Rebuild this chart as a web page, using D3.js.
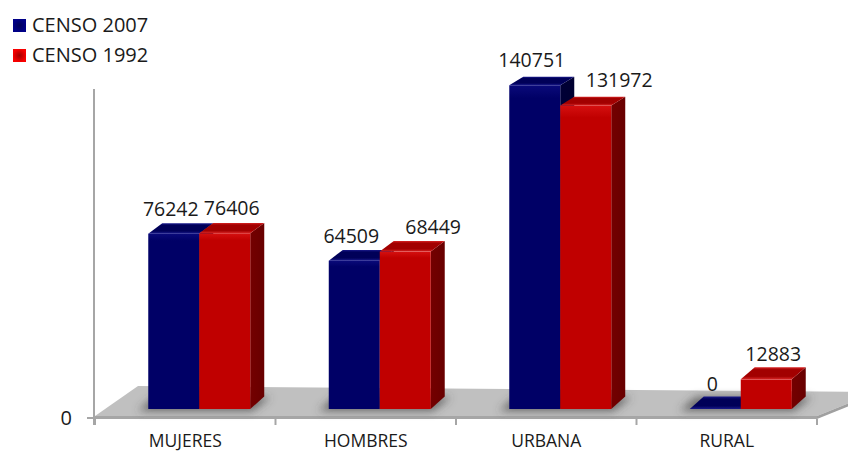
<!DOCTYPE html>
<html>
<head>
<meta charset="utf-8">
<script src="https://cdn.jsdelivr.net/npm/d3@7"></script>
<style>
  html, body { margin: 0; padding: 0; background: #ffffff; }
  svg { display: block; }
  text { font-family: "Open Sans", "Liberation Sans", sans-serif; fill: #1a1a1a; }
</style>
</head>
<body>
<svg id="chart" width="848" height="453"></svg>
<script>
// Población por sexo y área de residencia, censos 2007 y 1992
const categories = ["MUJERES", "HOMBRES", "URBANA", "RURAL"];
const seriesNames = ["CENSO 2007", "CENSO 1992"];
const censo2007 = [76242, 64509, 140751, 0];
const censo1992 = [76406, 68449, 131972, 12883];
const yTickValues = [0];

const seriesValues = [censo2007, censo1992];

// Colour sets for each series: front, top, side faces
const palette = [
  { front: "#000066", frontHi: "#0a0a7a", top: "#000058", topHi: "#1a1a8c", side: "#000036", marker: "#00006e" },
  { front: "#c00000", frontHi: "#d51010", top: "#a20000", topHi: "#d82424", side: "#740000", marker: "#c80000" }
];

const W = 848, H = 453;
const svg = d3.select("#chart");
const defs = svg.append("defs");

// Category scale along the front edge of the floor
const x = d3.scaleBand()
  .domain(categories)
  .range([95, 817])
  .paddingInner(0.435)
  .paddingOuter(0.2175);

const xs = d3.scaleBand()
  .domain(seriesNames)
  .range([0, x.bandwidth()]);

const y = d3.scaleLinear()
  .domain([0, 160000])
  .range([409, 41]);

// 3D geometry
const barDepthX = 14;          // horizontal offset of bar's back plane
const barShift = 14;           // bars sit slightly behind the floor's front edge
const floorFrontY = 416;
const floorDepthX = 43, floorDepthY = 30;
const yHigh = y(d3.max(censo2007.concat(censo1992)));
const yLow = y(0);
// vertical depth offset shrinks as bars rise (perspective)
const depthY = py => 8.5 + 4 * (py - yHigh) / (yLow - yHigh);

// ---------- gradients & filters ----------
palette.forEach((p, i) => {
  const gf = defs.append("linearGradient").attr("id", "front" + i)
    .attr("x1", 0).attr("y1", 0).attr("x2", 0).attr("y2", 1);
  gf.append("stop").attr("offset", 0).attr("stop-color", p.frontHi);
  gf.append("stop").attr("offset", 0.04).attr("stop-color", p.front);
  gf.append("stop").attr("offset", 1).attr("stop-color", p.front);

  const gt = defs.append("linearGradient").attr("id", "top" + i)
    .attr("x1", 0).attr("y1", 1).attr("x2", 0).attr("y2", 0);
  gt.append("stop").attr("offset", 0).attr("stop-color", p.topHi);
  gt.append("stop").attr("offset", 0.25).attr("stop-color", p.top);
  gt.append("stop").attr("offset", 0.8).attr("stop-color", p.top);
  gt.append("stop").attr("offset", 1).attr("stop-color", p.topHi);

  const gs = defs.append("linearGradient").attr("id", "side" + i)
    .attr("x1", 0).attr("y1", 0).attr("x2", 1).attr("y2", 0);
  gs.append("stop").attr("offset", 0).attr("stop-color", p.side);
  gs.append("stop").attr("offset", 1).attr("stop-color", d3.color(p.side).darker(0.3));

  const gm = defs.append("radialGradient").attr("id", "marker" + i);
  gm.append("stop").attr("offset", 0).attr("stop-color", d3.color(p.marker).darker(0.6));
  gm.append("stop").attr("offset", 1).attr("stop-color", d3.color(p.marker).brighter(0.6));
});

defs.append("filter").attr("id", "shadowBlur")
  .attr("x", "-30%").attr("y", "-80%").attr("width", "160%").attr("height", "260%")
  .append("feGaussianBlur").attr("stdDeviation", 4);

// ---------- floor ----------
const [fx0, fx1] = x.range();
const floorG = svg.append("g");
floorG.append("polygon")
  .attr("points", [
    [fx0, floorFrontY],
    [fx0 + floorDepthX, floorFrontY - floorDepthY],
    [fx1 + 60, floorFrontY - floorDepthY + 6],
    [fx1, floorFrontY]
  ].map(p => p.join(",")).join(" "))
  .attr("fill", "#c0c0c0");
// front edge band
floorG.append("polygon")
  .attr("points", [
    [fx0, floorFrontY], [fx1, floorFrontY], [fx1, floorFrontY + 3], [fx0 - 1, floorFrontY + 3]
  ].map(p => p.join(",")).join(" "))
  .attr("fill", "#a6a6a6");
// right edge band
floorG.append("polygon")
  .attr("points", [
    [fx1, floorFrontY], [fx1 + 60, floorFrontY - floorDepthY + 6],
    [fx1 + 60, floorFrontY - floorDepthY + 9], [fx1, floorFrontY + 3]
  ].map(p => p.join(",")).join(" "))
  .attr("fill", "#a0a0a0");

// ---------- axes ----------
const axisG = svg.append("g");
const axisX = fx0 - 1;
axisG.append("line")
  .attr("x1", axisX).attr("x2", axisX)
  .attr("y1", 89).attr("y2", floorFrontY + 9)
  .attr("stroke", "#a6a6a6").attr("stroke-width", 2);

yTickValues.forEach(v => {
  const ty = floorFrontY + 2 + (y(v) - y(0));
  axisG.append("line")
    .attr("x1", axisX - 7).attr("x2", axisX)
    .attr("y1", ty).attr("y2", ty)
    .attr("stroke", "#a6a6a6").attr("stroke-width", 2);
  axisG.append("text")
    .attr("x", axisX - 22).attr("y", ty + 7)
    .attr("text-anchor", "end")
    .attr("font-size", 20)
    .text(d3.format("d")(v));
});

// category boundary ticks and labels
const bandStart = c => x(c) - x.step() * x.paddingInner() / 2;
const bounds = categories.map(bandStart).concat([fx1]);
bounds.forEach(bx => {
  axisG.append("line")
    .attr("x1", bx).attr("x2", bx)
    .attr("y1", floorFrontY + 3).attr("y2", floorFrontY + 9)
    .attr("stroke", "#a6a6a6").attr("stroke-width", 2);
});
categories.forEach(c => {
  axisG.append("text")
    .attr("x", bandStart(c) + x.step() / 2)
    .attr("y", 447)
    .attr("text-anchor", "middle")
    .attr("font-size", 17.5)
    .text(c);
});

// ---------- shadows under each pair of bars ----------
const shadowG = svg.append("g").attr("filter", "url(#shadowBlur)");
categories.forEach((c, ci) => {
  const maxV = d3.max(seriesValues, s => s[ci]);
  if (maxV <= 0) return;
  const bx0 = x(c) + barShift, bx1 = bx0 + x.bandwidth();
  const by = y(0);
  shadowG.append("polygon")
    .attr("points", [
      [bx0 - 10, by + 2], [bx1 + 2, by + 2], [bx1 + barDepthX + 6, by - 12], [bx0 + barDepthX - 8, by - 12]
    ].map(p => p.join(",")).join(" "))
    .attr("fill", "#444444")
    .attr("opacity", 0.7);
});

// ---------- bars ----------
const barsG = svg.append("g");
const labelsG = svg.append("g");
const pts = arr => arr.map(p => p.join(",")).join(" ");
const labelGap = 8;

categories.forEach((c, ci) => {
  const placed = [];
  seriesNames.forEach((s, si) => {
    const v = seriesValues[si][ci];
    const x0 = x(c) + barShift + xs(s);
    const x1 = x0 + xs.bandwidth();
    const yb = y(0);
    const yt = y(v);
    const dyT = depthY(yt), dyB = depthY(yb);
    const g = barsG.append("g");

    if (yb - yt > 0.5) {
      g.append("polygon")
        .attr("points", pts([[x1, yt], [x1 + barDepthX, yt - dyT], [x1 + barDepthX, yb - dyB], [x1, yb]]))
        .attr("fill", `url(#side${si})`);
      g.append("rect")
        .attr("x", x0).attr("y", yt)
        .attr("width", x1 - x0).attr("height", yb - yt)
        .attr("fill", `url(#front${si})`);
    }
    g.append("polygon")
      .attr("points", pts([[x0, yt], [x1, yt], [x1 + barDepthX, yt - dyT], [x0 + barDepthX, yt - dyT]]))
      .attr("fill", `url(#top${si})`);

    // value label above the bar; slide it right when it crowds a staggered
    // neighbouring label or the neighbouring bar
    const baseline = yt - 18;
    const label = labelsG.append("text")
      .attr("font-size", 19.5)
      .attr("y", baseline)
      .text(d3.format("d")(v));
    const cx = (x0 + x1) / 2 + (si === 0 ? -3 : 7);
    label.attr("x", cx).attr("text-anchor", "middle");
    let box = label.node().getBBox();
    const hit = placed.some(p => {
      const overlapY = box.y < p.y1 && box.y + box.height > p.y0;
      if (p.kind === "label") {
        const staggered = Math.abs(p.baseline - baseline) > 4;
        return staggered && overlapY && box.x < p.x1 + labelGap && box.x + box.width > p.x0;
      }
      return overlapY && box.x < p.x1 && box.x + box.width > p.x0;
    });
    if (hit) {
      label.attr("x", (x0 + x1) / 2).attr("text-anchor", "start");
      box = label.node().getBBox();
    }
    placed.push({ kind: "label", baseline, x0: box.x, x1: box.x + box.width, y0: box.y, y1: box.y + box.height });
    placed.push({ kind: "bar", x0: x0, x1: x1 + barDepthX, y0: yt - dyT, y1: yb });
  });
});

// ---------- legend ----------
const legend = svg.append("g");
seriesNames.forEach((s, i) => {
  const ly = 19 + i * 30;
  legend.append("rect")
    .attr("x", 13).attr("y", ly)
    .attr("width", 13).attr("height", 13)
    .attr("fill", `url(#marker${i})`);
  legend.append("text")
    .attr("x", 32).attr("y", ly + 13)
    .attr("font-size", 20)
    .text(s);
});
</script>
</body>
</html>
